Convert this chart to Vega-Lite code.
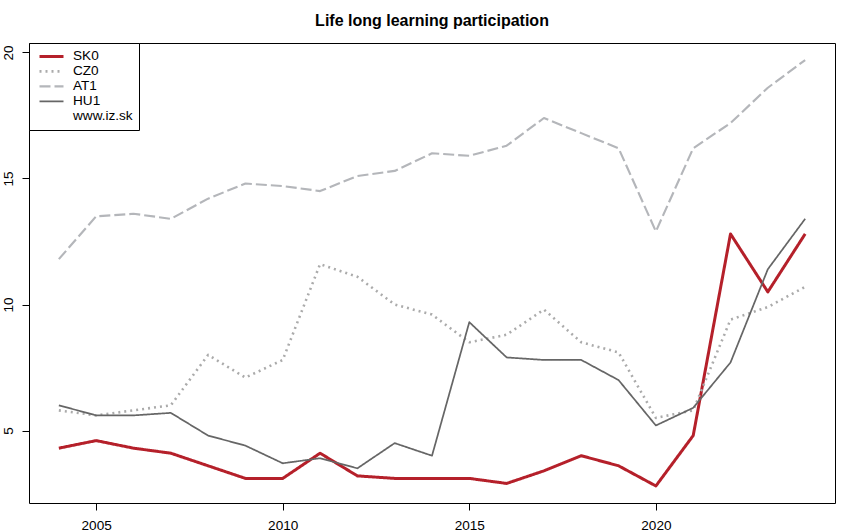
{
  "$schema": "https://vega.github.io/schema/vega-lite/v6.json",
  "width": 806,
  "height": 460,
  "autosize": {"type": "none"},
  "padding": {"left": 29, "top": 43, "right": 15, "bottom": 29},
  "background": "white",
  "title": {
    "text": "Life long learning participation",
    "font": "Liberation Sans",
    "fontSize": 16,
    "fontWeight": "bold",
    "color": "black",
    "anchor": "middle",
    "baseline": "alphabetic",
    "offset": 1
  },
  "config": {
    "view": {"stroke": "black", "strokeWidth": 1},
    "axis": {
      "labelFont": "Liberation Sans",
      "labelFontSize": 13.6,
      "labelColor": "black",
      "tickColor": "black",
      "tickSize": 7,
      "domain": false,
      "grid": false,
      "title": null
    }
  },
  "data": {
    "values": [
      {"year": 2004, "geo": "SK0", "value": 4.3},
      {"year": 2005, "geo": "SK0", "value": 4.6},
      {"year": 2006, "geo": "SK0", "value": 4.3},
      {"year": 2007, "geo": "SK0", "value": 4.1},
      {"year": 2008, "geo": "SK0", "value": 3.6},
      {"year": 2009, "geo": "SK0", "value": 3.1},
      {"year": 2010, "geo": "SK0", "value": 3.1},
      {"year": 2011, "geo": "SK0", "value": 4.1},
      {"year": 2012, "geo": "SK0", "value": 3.2},
      {"year": 2013, "geo": "SK0", "value": 3.1},
      {"year": 2014, "geo": "SK0", "value": 3.1},
      {"year": 2015, "geo": "SK0", "value": 3.1},
      {"year": 2016, "geo": "SK0", "value": 2.9},
      {"year": 2017, "geo": "SK0", "value": 3.4},
      {"year": 2018, "geo": "SK0", "value": 4.0},
      {"year": 2019, "geo": "SK0", "value": 3.6},
      {"year": 2020, "geo": "SK0", "value": 2.8},
      {"year": 2021, "geo": "SK0", "value": 4.8},
      {"year": 2022, "geo": "SK0", "value": 12.8},
      {"year": 2023, "geo": "SK0", "value": 10.5},
      {"year": 2024, "geo": "SK0", "value": 12.8},

      {"year": 2004, "geo": "CZ0", "value": 5.8},
      {"year": 2005, "geo": "CZ0", "value": 5.6},
      {"year": 2006, "geo": "CZ0", "value": 5.8},
      {"year": 2007, "geo": "CZ0", "value": 6.0},
      {"year": 2008, "geo": "CZ0", "value": 8.0},
      {"year": 2009, "geo": "CZ0", "value": 7.1},
      {"year": 2010, "geo": "CZ0", "value": 7.8},
      {"year": 2011, "geo": "CZ0", "value": 11.6},
      {"year": 2012, "geo": "CZ0", "value": 11.1},
      {"year": 2013, "geo": "CZ0", "value": 10.0},
      {"year": 2014, "geo": "CZ0", "value": 9.6},
      {"year": 2015, "geo": "CZ0", "value": 8.5},
      {"year": 2016, "geo": "CZ0", "value": 8.8},
      {"year": 2017, "geo": "CZ0", "value": 9.8},
      {"year": 2018, "geo": "CZ0", "value": 8.5},
      {"year": 2019, "geo": "CZ0", "value": 8.1},
      {"year": 2020, "geo": "CZ0", "value": 5.5},
      {"year": 2021, "geo": "CZ0", "value": 5.8},
      {"year": 2022, "geo": "CZ0", "value": 9.4},
      {"year": 2023, "geo": "CZ0", "value": 9.9},
      {"year": 2024, "geo": "CZ0", "value": 10.7},

      {"year": 2004, "geo": "AT1", "value": 11.8},
      {"year": 2005, "geo": "AT1", "value": 13.5},
      {"year": 2006, "geo": "AT1", "value": 13.6},
      {"year": 2007, "geo": "AT1", "value": 13.4},
      {"year": 2008, "geo": "AT1", "value": 14.2},
      {"year": 2009, "geo": "AT1", "value": 14.8},
      {"year": 2010, "geo": "AT1", "value": 14.7},
      {"year": 2011, "geo": "AT1", "value": 14.5},
      {"year": 2012, "geo": "AT1", "value": 15.1},
      {"year": 2013, "geo": "AT1", "value": 15.3},
      {"year": 2014, "geo": "AT1", "value": 16.0},
      {"year": 2015, "geo": "AT1", "value": 15.9},
      {"year": 2016, "geo": "AT1", "value": 16.3},
      {"year": 2017, "geo": "AT1", "value": 17.4},
      {"year": 2018, "geo": "AT1", "value": 16.8},
      {"year": 2019, "geo": "AT1", "value": 16.2},
      {"year": 2020, "geo": "AT1", "value": 12.9},
      {"year": 2021, "geo": "AT1", "value": 16.2},
      {"year": 2022, "geo": "AT1", "value": 17.2},
      {"year": 2023, "geo": "AT1", "value": 18.6},
      {"year": 2024, "geo": "AT1", "value": 19.7},

      {"year": 2004, "geo": "HU1", "value": 6.0},
      {"year": 2005, "geo": "HU1", "value": 5.6},
      {"year": 2006, "geo": "HU1", "value": 5.6},
      {"year": 2007, "geo": "HU1", "value": 5.7},
      {"year": 2008, "geo": "HU1", "value": 4.8},
      {"year": 2009, "geo": "HU1", "value": 4.4},
      {"year": 2010, "geo": "HU1", "value": 3.7},
      {"year": 2011, "geo": "HU1", "value": 3.9},
      {"year": 2012, "geo": "HU1", "value": 3.5},
      {"year": 2013, "geo": "HU1", "value": 4.5},
      {"year": 2014, "geo": "HU1", "value": 4.0},
      {"year": 2015, "geo": "HU1", "value": 9.3},
      {"year": 2016, "geo": "HU1", "value": 7.9},
      {"year": 2017, "geo": "HU1", "value": 7.8},
      {"year": 2018, "geo": "HU1", "value": 7.8},
      {"year": 2019, "geo": "HU1", "value": 7.0},
      {"year": 2020, "geo": "HU1", "value": 5.2},
      {"year": 2021, "geo": "HU1", "value": 5.9},
      {"year": 2022, "geo": "HU1", "value": 7.7},
      {"year": 2023, "geo": "HU1", "value": 11.4},
      {"year": 2024, "geo": "HU1", "value": 13.4}
    ]
  },
  "mark": {"type": "line", "strokeCap": "butt", "strokeJoin": "round"},
  "encoding": {
    "x": {
      "field": "year",
      "type": "quantitative",
      "scale": {"domain": [2003.2, 2024.8], "nice": false, "zero": false},
      "axis": {
        "values": [2005, 2010, 2015, 2020],
        "format": "d",
        "labelPadding": 19,
        "labelBaseline": "alphabetic",
        "labelAlign": "center"
      }
    },
    "y": {
      "field": "value",
      "type": "quantitative",
      "scale": {"domain": [2.124, 20.376], "nice": false, "zero": false},
      "axis": {
        "values": [5, 10, 15, 20],
        "labelAngle": -90,
        "labelAlign": "center",
        "labelBaseline": "alphabetic",
        "labelPadding": 10
      }
    },
    "color": {
      "field": "geo",
      "type": "nominal",
      "scale": {
        "domain": ["SK0", "CZ0", "AT1", "HU1", "www.iz.sk"],
        "range": ["#b5202a", "#ababab", "#b4b6ba", "#666666", "transparent"]
      },
      "legend": {
        "title": null,
        "orient": "none",
        "legendX": 0,
        "legendY": 0,
        "strokeColor": "black",
        "fillColor": "white",
        "padding": 6,
        "symbolType": "stroke",
        "symbolSize": 576,
        "symbolOffset": 3,
        "clipHeight": 14.8,
        "rowPadding": 0,
        "labelOffset": 8,
        "labelFont": "Liberation Sans",
        "labelFontSize": 13.6,
        "labelColor": "black",
        "labelLimit": 200
      }
    },
    "strokeDash": {
      "field": "geo",
      "type": "nominal",
      "scale": {
        "domain": ["SK0", "CZ0", "AT1", "HU1", "www.iz.sk"],
        "range": [[1, 0], [2, 4], [11, 4], [1, 0], [1, 0]]
      }
    },
    "strokeWidth": {
      "field": "geo",
      "type": "nominal",
      "scale": {
        "domain": ["SK0", "CZ0", "AT1", "HU1", "www.iz.sk"],
        "range": [3, 1.3, 1.5, 1.5, 1]
      }
    }
  }
}
